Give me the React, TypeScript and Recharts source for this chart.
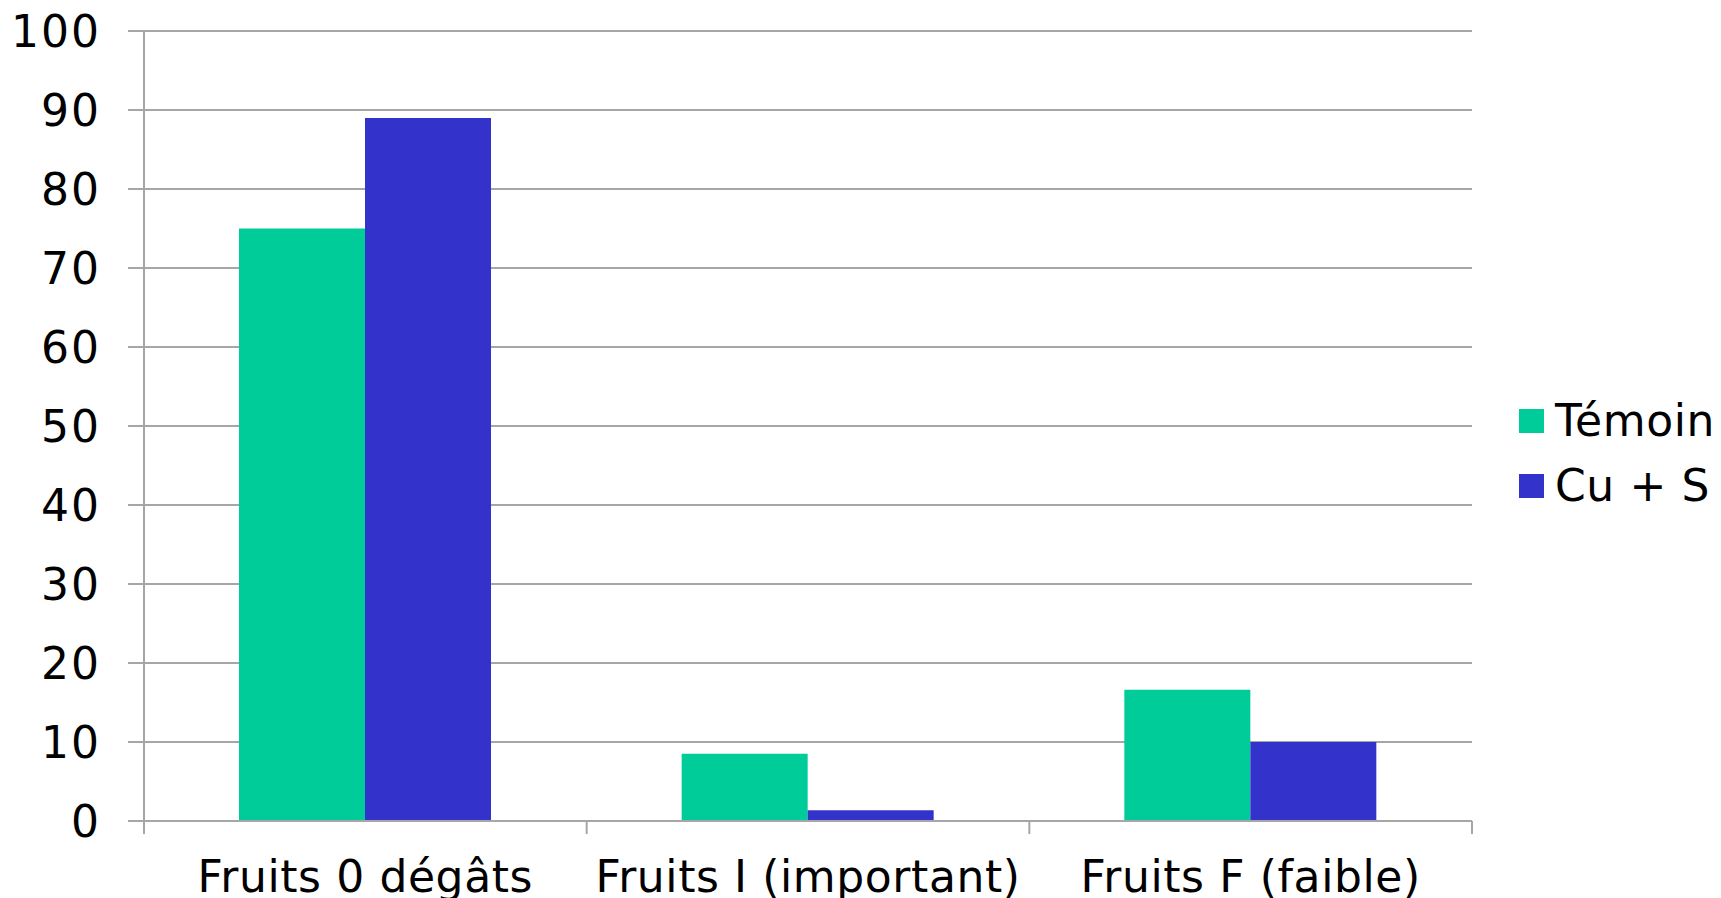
import React from "react";
import {
  BarChart,
  Bar,
  XAxis,
  YAxis,
  CartesianGrid,
  Legend,
} from "recharts";

// data
const categories = ["Fruits 0 dégâts", "Fruits I (important)", "Fruits F (faible)"];
const temoinValues = [75, 8.5, 16.6];
const cuSValues = [89, 1.35, 10];
const yTicks = [0, 10, 20, 30, 40, 50, 60, 70, 80, 90, 100];

const seriesNames = ["Témoin", "Cu + S"];
const COLORS = ["#00CC99", "#3333CC"];

const FONT = "'DejaVu Sans', Verdana, sans-serif";
const GRID = "#a6a6a6";

const W = 1721;
const H = 898;
const MARGIN = { top: 31, right: 0, bottom: 0, left: 0 };
const Y_AXIS_W = 144;
const LEGEND_W = 249;
const X_AXIS_H = 77;

const data = categories.map((name, i) => ({
  name,
  temoin: temoinValues[i],
  cus: cuSValues[i],
}));

const plotWidth = W - Y_AXIS_W - LEGEND_W;
const bandHalf = plotWidth / categories.length / 2;

// category label + tick marks on the category boundaries (like the original)
const CategoryTick = (props: any) => {
  const { x, y, payload, index, visibleTicksCount } = props;
  const half = payload && payload.offset ? payload.offset : bandHalf;
  const axisY = y - 40;
  const last = index === (visibleTicksCount ?? categories.length) - 1;
  return (
    <g>
      <line x1={x - half} x2={x - half} y1={axisY} y2={axisY + 13} stroke={GRID} strokeWidth={2} />
      {last && (
        <line x1={x + half} x2={x + half} y1={axisY} y2={axisY + 13} stroke={GRID} strokeWidth={2} />
      )}
      <text
        x={x}
        y={y}
        dy="0.71em"
        textAnchor="middle"
        fill="#000"
        fontSize={44}
        fontFamily={FONT}
        letterSpacing={0.6}
      >
        {payload.value}
      </text>
    </g>
  );
};

const LegendContent = () => (
  <div style={{ paddingLeft: 47, fontFamily: FONT, fontSize: 44, color: "#000", letterSpacing: 0.6 }}>
    {seriesNames.map((name, i) => (
      <div key={name} style={{ display: "flex", alignItems: "center", height: 65, lineHeight: "65px" }}>
        <div style={{ width: 25, height: 24, background: COLORS[i], marginRight: 11, flexShrink: 0 }} />
        <span style={{ whiteSpace: "nowrap" }}>{name}</span>
      </div>
    ))}
  </div>
);

export default function App() {
  return (
    <div style={{ position: "absolute", left: 0, top: 0, width: W, height: H, background: "#fff" }}>
      <BarChart
        width={W}
        height={H}
        data={data}
        margin={MARGIN}
        barCategoryGap={95}
        barGap={0}
      >
        <CartesianGrid horizontal vertical={false} stroke={GRID} strokeWidth={2} />
        <XAxis
          dataKey="name"
          height={X_AXIS_H}
          axisLine={{ stroke: GRID, strokeWidth: 2 }}
          tickLine={false}
          tickSize={13}
          tickMargin={27}
          tick={<CategoryTick />}
          interval={0}
        />
        <YAxis
          width={Y_AXIS_W}
          domain={[0, 100]}
          ticks={yTicks}
          interval={0}
          axisLine={{ stroke: GRID, strokeWidth: 2 }}
          tickLine={{ stroke: GRID, strokeWidth: 2 }}
          tickSize={16}
          tickMargin={27}
          tick={{ fill: "#000", fontSize: 44, fontFamily: FONT, letterSpacing: 2 }}
        />
        <Legend
          layout="vertical"
          align="right"
          verticalAlign="middle"
          width={LEGEND_W}
          wrapperStyle={{ top: 388, right: 0, width: LEGEND_W }}
          content={<LegendContent />}
        />
        <Bar dataKey="temoin" name={seriesNames[0]} fill={COLORS[0]} isAnimationActive={false} />
        <Bar dataKey="cus" name={seriesNames[1]} fill={COLORS[1]} isAnimationActive={false} />
      </BarChart>
    </div>
  );
}
